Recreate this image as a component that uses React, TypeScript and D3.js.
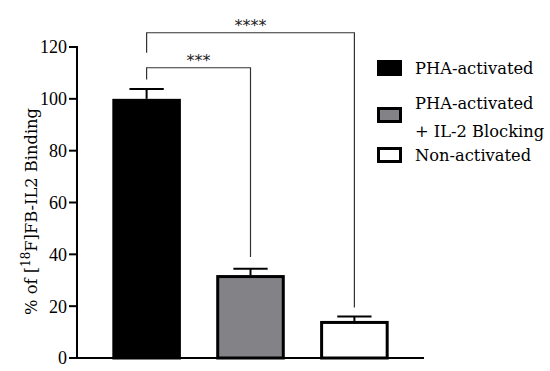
import React from "react";
import * as d3 from "d3";

const groups = ["PHA-activated", "PHA-activated + IL-2 Blocking", "Non-activated"];
const means = [100, 32, 14.3];
const errors = [3.8, 2.4, 1.7];
const fills = ["#000000", "#838287", "#ffffff"];
const yTicks = [0, 20, 40, 60, 80, 100, 120];
const legendLines = [["PHA-activated"], ["PHA-activated", "+ IL-2 Blocking"], ["Non-activated"]];

// significance brackets (heights in data units)
const sigs = [
  { a: 0, b: 1, level: 112, leftEnd: 107.5, rightEnd: 39, label: "***" },
  { a: 0, b: 2, level: 125.5, leftEnd: 117.8, rightEnd: 19.5, label: "****" },
];

const font = "'Liberation Serif', serif";
const wideFont = "'DejaVu Serif', serif";

export default function App() {
  const width = 550;
  const height = 371;

  const x = d3.scaleBand<string>().domain(groups).range([77, 424]).paddingInner(0.34).paddingOuter(0.34);
  const y = d3.scaleLinear().domain([0, 120]).range([358, 47]);
  const bw = x.bandwidth();

  return (
    <svg width={width} height={height} style={{ position: "absolute", left: 0, top: 0, background: "#fff" }} fontFamily={font}>
      {/* bars */}
      {groups.map((g, i) => {
        const x0 = x(g)!;
        const cx = x0 + bw / 2;
        const top = y(means[i]);
        const errTop = y(means[i] + errors[i]);
        return (
          <g key={g}>
            <line x1={cx} x2={cx} y1={top} y2={errTop} stroke="#000" strokeWidth={2} />
            <line x1={cx - bw / 4} x2={cx + bw / 4} y1={errTop} y2={errTop} stroke="#000" strokeWidth={2} />
            <rect x={x0 + 1.5} y={top + 1.5} width={bw - 3} height={y(0) - top - 1.5} fill={fills[i]} stroke="#000" strokeWidth={3} />
          </g>
        );
      })}

      {/* axes */}
      <line x1={77} x2={424} y1={y(0)} y2={y(0)} stroke="#000" strokeWidth={2} />
      <line x1={77} x2={77} y1={y(0) + 1} y2={y(120) - 1} stroke="#000" strokeWidth={2} />
      {yTicks.map((t) => (
        <g key={t}>
          <line x1={69} x2={77} y1={y(t)} y2={y(t)} stroke="#000" strokeWidth={2} />
          <text x={67} y={y(t)} dy="0.36em" textAnchor="end" fontSize={18}>{t}</text>
        </g>
      ))}

      {/* y label */}
      <text transform={`translate(37,${y(60) + 9}) rotate(-90)`} textAnchor="middle" fontSize={16.3} fontFamily={wideFont}>
        % of [<tspan fontSize={12} dy={-7}>18</tspan><tspan dy={7}>F]FB-IL2 Binding</tspan>
      </text>

      {/* significance brackets */}
      {sigs.map((s) => {
        const xa = x(groups[s.a])! + bw / 2;
        const xb = x(groups[s.b])! + bw / 2;
        const yl = y(s.level);
        return (
          <g key={s.label}>
            <path d={`M${xa},${y(s.leftEnd)}V${yl}H${xb}V${y(s.rightEnd)}`} fill="none" stroke="#333" strokeWidth={1.2} />
            <text x={(xa + xb) / 2} y={yl - 2} textAnchor="middle" fontSize={16} fill="#222" fontFamily="'DejaVu Sans', sans-serif">{s.label}</text>
          </g>
        );
      })}

      {/* legend */}
      {legendLines.map((lines, i) => {
        const rows = [68, 115, 155];
        const cy = rows[i];
        return (
          <g key={i}>
            <rect x={378.5} y={cy - 6.5} width={22} height={13} fill={fills[i]} stroke="#000" strokeWidth={3} />
            {lines.map((l, j) => (
              <text key={j} x={415} y={lines.length > 1 ? cy - 6 + j * 28 : cy + 6} fontSize={16.3} fontFamily={wideFont}>{l}</text>
            ))}
          </g>
        );
      })}
    </svg>
  );
}
